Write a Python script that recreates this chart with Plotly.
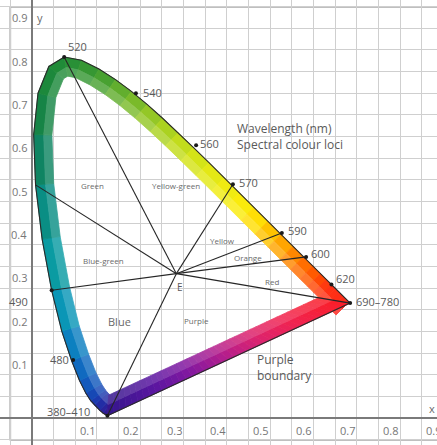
import numpy as np
import plotly.graph_objects as go

# ---------------- data ----------------
# CIE 1931 spectral locus (wavelength nm, chromaticity x, y)
wl = [380, 440, 450, 460, 465, 470, 475, 480, 485, 490, 495, 500, 505, 510, 515,
      520, 525, 530, 535, 540, 545, 550, 555, 560, 565, 570, 575, 580, 585, 590,
      595, 600, 605, 610, 615, 620, 625, 630, 640, 650, 670, 700]
cx = [0.1741, 0.1644, 0.1566, 0.1440, 0.1355, 0.1241, 0.1096, 0.0913, 0.0687, 0.0454,
      0.0235, 0.0082, 0.0039, 0.0139, 0.0389, 0.0743, 0.1142, 0.1547, 0.1929, 0.2296,
      0.2658, 0.3016, 0.3374, 0.3731, 0.4087, 0.4441, 0.4788, 0.5125, 0.5448, 0.5752,
      0.6029, 0.6270, 0.6482, 0.6658, 0.6801, 0.6915, 0.7006, 0.7079, 0.7190, 0.7260,
      0.7320, 0.7347]
cy = [0.0050, 0.0109, 0.0177, 0.0297, 0.0399, 0.0578, 0.0868, 0.1327, 0.2007, 0.2950,
      0.4127, 0.5384, 0.6548, 0.7502, 0.8120, 0.8338, 0.8262, 0.8059, 0.7816, 0.7543,
      0.7243, 0.6923, 0.6589, 0.6245, 0.5896, 0.5547, 0.5202, 0.4866, 0.4544, 0.4242,
      0.3965, 0.3725, 0.3514, 0.3340, 0.3198, 0.3083, 0.2993, 0.2920, 0.2809, 0.2740,
      0.2680, 0.2653]

# marked loci on the diagram
mark_labels = ["520", "540", "560", "570", "590", "600", "620", "690–780", "490", "480", "380–410"]
mark_x = [0.0743, 0.2400, 0.3790, 0.4640, 0.5770, 0.6330, 0.6915, 0.7347, 0.0454, 0.0950, 0.1741]
mark_y = [0.8338, 0.7500, 0.6300, 0.5400, 0.4270, 0.3720, 0.3083, 0.2653, 0.2950, 0.1340, 0.0050]
mark_lx = [0.079, 0.252, 0.383, 0.473, 0.587, 0.640, 0.697, 0.744, -0.005, 0.091, 0.139]
mark_ly = [0.857, 0.751, 0.633, 0.545, 0.434, 0.379, 0.323, 0.270, 0.268, 0.134, 0.016]
mark_anchor = ["left"] * 8 + ["right"] * 3

# lines from white point E to these loci
E = (1 / 3, 1 / 3)
ray_x = [0.1741, 0.0454, 0.0082, 0.0743, 0.4640, 0.5770, 0.6330, 0.7347]
ray_y = [0.0050, 0.2950, 0.5384, 0.8338, 0.5400, 0.4270, 0.3720, 0.2653]

# region names
region_names = ["Green", "Yellow-green", "Blue-green", "Yellow", "Orange", "Red", "Purple"]
region_x = [0.139, 0.333, 0.164, 0.439, 0.499, 0.554, 0.381]
region_y = [0.536, 0.536, 0.363, 0.409, 0.370, 0.316, 0.226]

tick_vals = [0.1, 0.2, 0.3, 0.4, 0.5, 0.6, 0.7, 0.8, 0.9]
tick_text = ["0.1", "0.2", "0.3", "0.4", "0.5", "0.6", "0.7", "0.8", "0.9"]

# ---------------- styling helpers ----------------
stops = [(380, (52, 22, 140)), (440, (45, 30, 150)), (460, (30, 50, 170)),
         (470, (20, 80, 185)), (480, (15, 115, 195)), (485, (10, 140, 190)),
         (490, (10, 160, 175)), (495, (10, 150, 150)), (500, (10, 135, 115)),
         (505, (20, 130, 80)), (510, (25, 135, 60)), (520, (35, 140, 55)),
         (530, (60, 155, 50)), (540, (110, 180, 45)), (550, (160, 205, 35)),
         (560, (205, 225, 25)), (570, (235, 235, 20)), (580, (255, 235, 10)),
         (585, (255, 210, 0)), (590, (255, 180, 0)), (600, (255, 120, 0)),
         (610, (255, 80, 0)), (620, (255, 50, 20)), (700, (250, 30, 30))]
pstops = [(0.0, (52, 22, 140)), (0.2, (90, 22, 160)), (0.35, (130, 25, 160)),
          (0.5, (180, 30, 140)), (0.65, (220, 35, 110)), (0.8, (240, 35, 80)),
          (1.0, (250, 30, 40))]


def interp_color(v, st):
    for (a, ca), (b, cb) in zip(st[:-1], st[1:]):
        if a <= v <= b:
            t = (v - a) / (b - a) if b > a else 0
            return tuple(ca[k] + (cb[k] - ca[k]) * t for k in range(3))
    return st[-1][1] if v > st[-1][0] else st[0][1]


def lighten(c, f):
    return tuple(c[k] + (255 - c[k]) * f for k in range(3))


def rgb(c):
    return "rgb(%d,%d,%d)" % tuple(int(round(v)) for v in c)


# ---------------- geometry of band ----------------
P = np.column_stack([cx, cy])
N = len(P)
area = 0.5 * np.sum(P[:, 0] * np.roll(P[:, 1], -1) - np.roll(P[:, 0], -1) * P[:, 1])
sgn = 1 if area > 0 else -1
D = 0.042


def inward(e):
    e = e / np.linalg.norm(e)
    return np.array([-e[1], e[0]]) * sgn


inner = np.zeros_like(P)
for i in range(N):
    prev = P[i - 1]
    nxt = P[(i + 1) % N]
    n1 = inward(P[i] - prev)
    n2 = inward(nxt - P[i])
    m = n1 + n2
    m = m / np.linalg.norm(m)
    inner[i] = P[i] + m * D / max(np.dot(m, n1), 0.3)

fig = go.Figure()
strips = [(0.0, 0.55, 0.0), (0.55, 1.0, 0.18)]


def add_quad(pts, col):
    xs = [p[0] for p in pts] + [pts[0][0]]
    ys = [p[1] for p in pts] + [pts[0][1]]
    fig.add_trace(go.Scatter(x=xs, y=ys, mode="lines", fill="toself", fillcolor=col,
                             line=dict(color=col, width=0.8), hoverinfo="skip",
                             showlegend=False))


# spectral locus band
for i in range(N - 1):
    c = interp_color(0.5 * (wl[i] + wl[i + 1]), stops)
    for a, b, lf in strips:
        o1 = P[i] + (inner[i] - P[i]) * a
        o2 = P[i + 1] + (inner[i + 1] - P[i + 1]) * a
        i2 = P[i + 1] + (inner[i + 1] - P[i + 1]) * b
        i1 = P[i] + (inner[i] - P[i]) * b
        add_quad([o1, o2, i2, i1], rgb(lighten(c, lf)))

# purple boundary band
K = 40
A0, A1 = P[0], P[-1]
B0, B1 = inner[0], inner[-1]
for k in range(K):
    t0, t1 = k / K, (k + 1) / K
    c = interp_color(0.5 * (t0 + t1), pstops)
    for a, b, lf in strips:
        def pt(t, s):
            o = A0 + (A1 - A0) * t
            n = B0 + (B1 - B0) * t
            return o + (n - o) * s
        add_quad([pt(t0, a), pt(t1, a), pt(t1, b), pt(t0, b)], rgb(lighten(c, lf * 0.8)))

# outline of outer boundary
fig.add_trace(go.Scatter(x=list(cx) + [cx[0]], y=list(cy) + [cy[0]], mode="lines",
                         line=dict(color="#2a2a2a", width=1.1), hoverinfo="skip",
                         showlegend=False))

# rays from E
for rx, ry in zip(ray_x, ray_y):
    fig.add_trace(go.Scatter(x=[E[0], rx], y=[E[1], ry], mode="lines",
                             line=dict(color="#262626", width=1.1), hoverinfo="skip",
                             showlegend=False))

# markers
fig.add_trace(go.Scatter(x=mark_x, y=mark_y, mode="markers",
                         marker=dict(color="#1a1a1a", size=4), hoverinfo="skip",
                         showlegend=False))

ann = []
FONT = "Open Sans, Liberation Sans, sans-serif"
TXT = "#5a5a5a"
for lab, lx, ly, anc in zip(mark_labels, mark_lx, mark_ly, mark_anchor):
    ann.append(dict(x=lx, y=ly, text=lab, xanchor=anc, yanchor="middle", showarrow=False,
                    font=dict(family=FONT, size=11, color=TXT)))
for lab, rx_, ry_ in zip(region_names, region_x, region_y):
    ann.append(dict(x=rx_, y=ry_, text=lab, xanchor="center", yanchor="middle",
                    showarrow=False, font=dict(family=FONT, size=8, color="#6a6a6a")))
ann.append(dict(x=0.203, y=0.222, text="Blue", showarrow=False,
                font=dict(family=FONT, size=11, color="#6a6a6a")))
ann.append(dict(x=0.342, y=0.303, text="E", showarrow=False,
                font=dict(family=FONT, size=10, color="#5a5a5a")))
ann.append(dict(x=0.515, y=0.116, text="Purple<br>boundary", xanchor="left", align="left",
                showarrow=False, font=dict(family=FONT, size=12, color=TXT)))
ann.append(dict(x=0.468, y=0.651, text="Wavelength (nm)<br>Spectral colour loci",
                xanchor="left", align="left", showarrow=False,
                font=dict(family=FONT, size=12, color=TXT)))
ann.append(dict(x=0.924, y=0.023, text="x", showarrow=False,
                font=dict(family=FONT, size=11, color="#6a6a6a")))
ann.append(dict(x=0.018, y=0.924, text="y", showarrow=False,
                font=dict(family=FONT, size=11, color="#6a6a6a")))
for v, t in zip(tick_vals, tick_text):
    ann.append(dict(x=v + 0.006, y=-0.029, text=t, xanchor="left", yanchor="middle",
                    showarrow=False, font=dict(family=FONT, size=11, color="#777777")))
    ann.append(dict(x=-0.006, y=v + 0.024, text=t, xanchor="right", yanchor="middle",
                    showarrow=False, font=dict(family=FONT, size=11, color="#777777")))

fig.update_layout(
    width=437, height=445, margin=dict(l=0, r=0, t=0, b=0),
    plot_bgcolor="white", paper_bgcolor="white", showlegend=False,
    annotations=ann,
    shapes=[dict(type="rect", xref="x", yref="y", x0=-0.05, y0=-0.05, x1=1.2, y1=0.95,
                 line=dict(color="#808080", width=1.5), layer="below")],
    xaxis=dict(range=[-0.0739, 0.9353], dtick=0.05, tick0=0, showgrid=True,
               gridcolor="#cfcfcf", gridwidth=1.3, zeroline=True, zerolinecolor="#7a7a7a",
               zerolinewidth=2, showticklabels=False, ticks="", fixedrange=True),
    yaxis=dict(range=[-0.0624, 0.9654], dtick=0.05, tick0=0, showgrid=True,
               gridcolor="#cfcfcf", gridwidth=1.3, zeroline=True, zerolinecolor="#7a7a7a",
               zerolinewidth=2, showticklabels=False, ticks="", fixedrange=True),
)

fig.write_html("out.html", config={"displayModeBar": False},
               post_script="document.body.style.margin='0';document.body.style.overflow='hidden';")
